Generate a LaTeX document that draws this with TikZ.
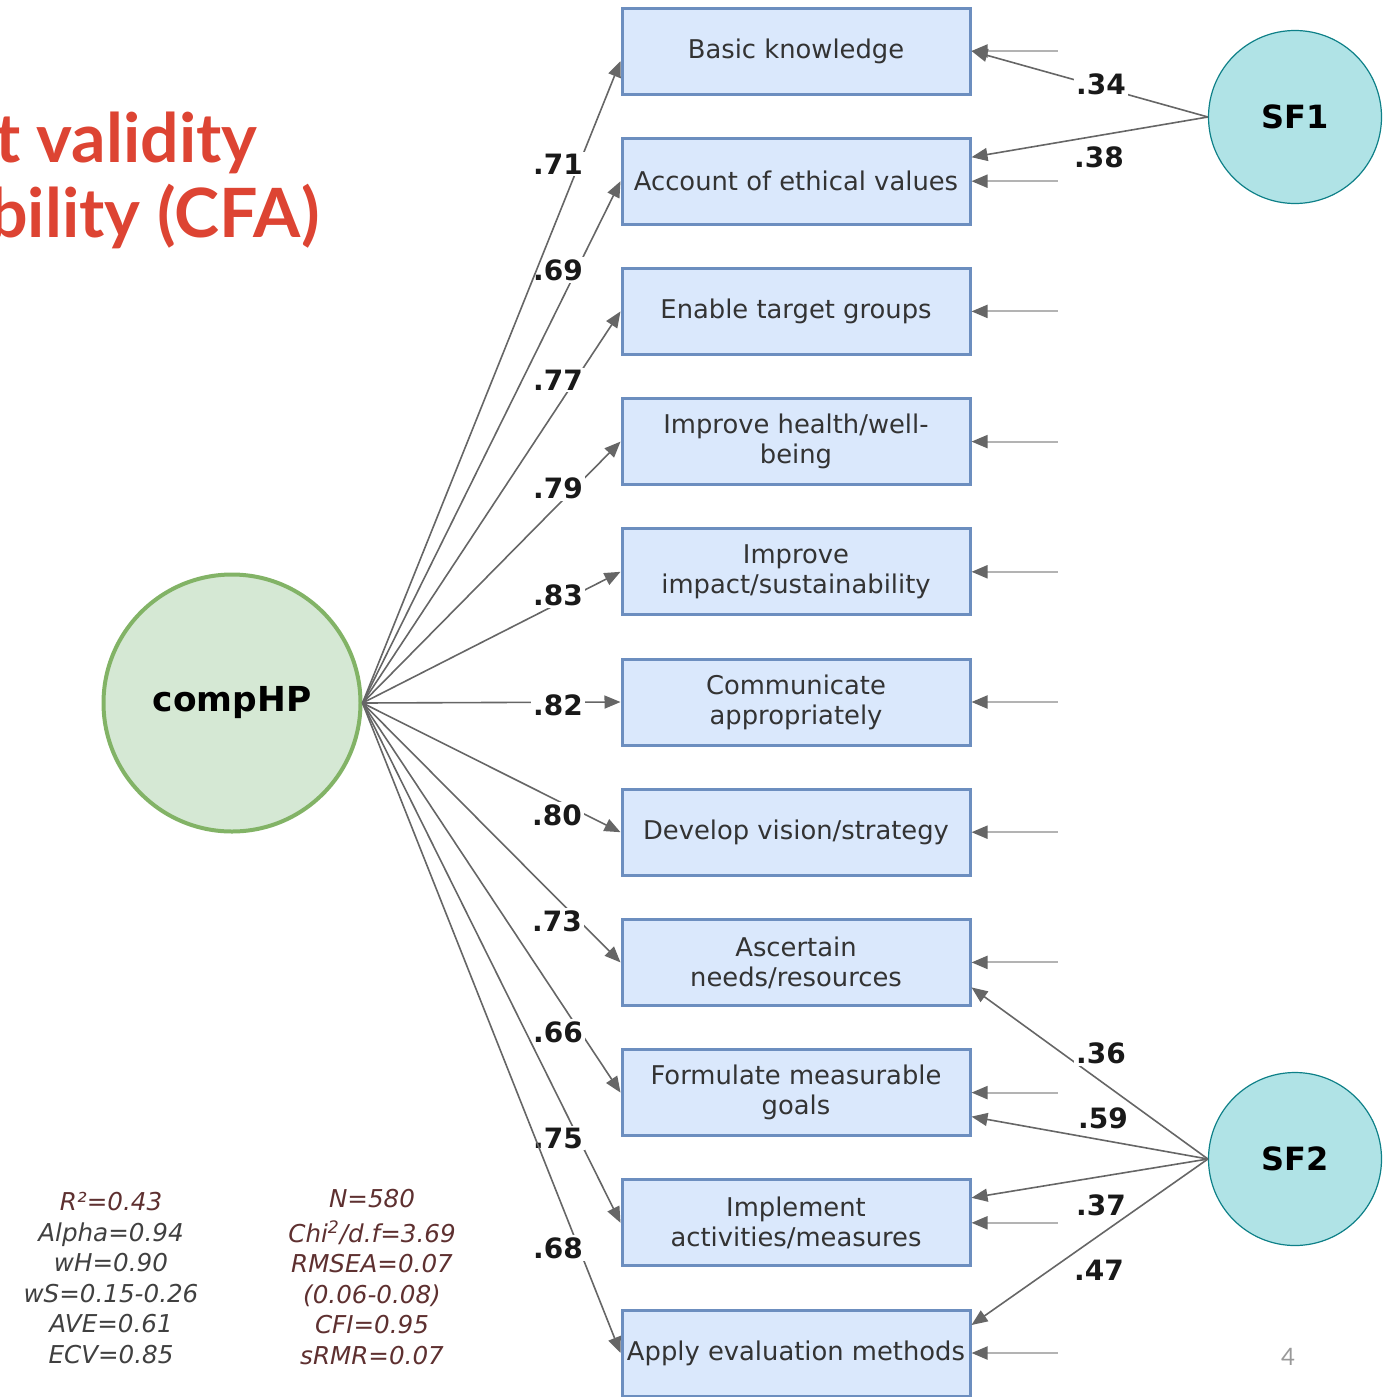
\documentclass[tikz,border=0pt]{standalone}
\usepackage{fontspec}
\setmainfont{DejaVu Sans}
\newfontfamily\headfont{Lato}
\usepackage{tikz}
\usetikzlibrary{arrows.meta, positioning}
\definecolor{hpBoxFill}{HTML}{DAE8FC}
\definecolor{hpBoxLine}{HTML}{6C8EBF}
\definecolor{hpGreenFill}{HTML}{D5E8D4}
\definecolor{hpGreenLine}{HTML}{82B366}
\definecolor{hpTealFill}{HTML}{B0E3E6}
\definecolor{hpTealLine}{HTML}{0E8088}
\definecolor{hpArrow}{HTML}{666666}
\definecolor{hpError}{HTML}{B3B3B3}
\definecolor{hpTitle}{HTML}{DD4433}
\definecolor{hpMaroon}{HTML}{5E3030}
\definecolor{hpGray}{HTML}{404040}
\definecolor{hpText}{HTML}{333333}

\begin{document}
\begin{tikzpicture}[x=0.5pt, y=-0.5pt, node distance=20.6pt,
    item/.style={draw=hpBoxLine, line width=1.5pt, fill=hpBoxFill, minimum width=174pt, minimum height=43pt, inner sep=0pt, align=center, text=hpText, font=\fontsize{12.9}{15}\selectfont},
    factor/.style={circle, draw=hpTealLine, line width=0.6pt, fill=hpTealFill, minimum size=86.5pt, font=\bfseries\fontsize{16}{16}\selectfont},
    load/.style={draw=hpArrow, line width=0.8pt, -{Triangle[length=8pt, width=6.5pt]}},
    err/.style={draw=hpError, line width=1pt, -{Triangle[length=8pt, width=6.5pt, color=hpArrow]}},
    coef/.style={fill=white, inner sep=1pt, font=\bfseries\fontsize{14}{14}\selectfont, text=black!90},
    stats/.style={align=center, font=\itshape\fontsize{12.3}{15.3}\selectfont},
    heading/.style={anchor=base east, inner sep=0pt, text=hpTitle, font=\headfont\bfseries\fontsize{34}{34}\selectfont}]
  \useasboundingbox (0,0) rectangle (1385,1397);

  % slide title, cut off at the left edge
  \node[heading] (ttl1) at (258,162) {t validity};
  \node[heading] (ttl2) at (320,237) {bility (CFA)};

  % indicators
  \node[item] (i1) at (796,51) {Basic knowledge};
  \node[item, below=of i1] (i2) {Account of ethical values};
  \node[item, below=of i2] (i3) {Enable target groups};
  \node[item, below=of i3] (i4) {Improve health/well-\\being};
  \node[item, below=of i4] (i5) {Improve\\impact/sustainability};
  \node[item, below=of i5] (i6) {Communicate\\appropriately};
  \node[item, below=of i6] (i7) {Develop vision/strategy};
  \node[item, below=of i7] (i8) {Ascertain\\needs/resources};
  \node[item, below=of i8] (i9) {Formulate measurable\\goals};
  \node[item, below=of i9] (i10) {Implement\\activities/measures};
  \node[item, below=of i10] (i11) {Apply evaluation methods};

  % latent factors
  \node[circle, draw=hpGreenLine, line width=2pt, fill=hpGreenFill, minimum size=128.5pt, font=\bfseries\fontsize{17.2}{17}\selectfont] (hp) at (232,703) {compHP};
  \node[factor] (sf1) at (1295,117) {SF1};
  \node[factor] (sf2) at (1295,1159) {SF2};

  % residuals
  \foreach \i in {1,...,11} {
    \coordinate[right=43pt of i\i.east] (e\i);
    \draw[err] (e\i) -- (i\i.east);
  }

  % general factor, drawn from the middle outwards
  \draw[load] (hp.east) -- (i6.west); \node[coef] (c6) at (558,705) {.82};
  \draw[load] (hp.east) -- (i5.west); \node[coef] (c5) at (558,595) {.83};
  \draw[load] (hp.east) -- (i4.west); \node[coef] (c4) at (558,488) {.79};
  \draw[load] (hp.east) -- (i3.west); \node[coef] (c3) at (558,380) {.77};
  \draw[load] (hp.east) -- (i2.west); \node[coef] (c2) at (558,270) {.69};
  \draw[load] (hp.east) -- ([yshift=-5pt]i1.west); \node[coef] (c1) at (558,164) {.71};
  \draw[load] (hp.east) -- (i7.west); \node[coef] (c7) at (557,815) {.80};
  \draw[load] (hp.east) -- (i8.west); \node[coef] (c8) at (557,921) {.73};
  \draw[load] (hp.east) -- (i9.west); \node[coef] (c9) at (558,1032) {.66};
  \draw[load] (hp.east) -- (i10.west); \node[coef] (c10) at (558,1138) {.75};
  \draw[load] (hp.east) -- (i11.west); \node[coef] (c11) at (558,1248) {.68};

  % specific factors
  \draw[load] (sf1.west) -- (i1.east); \node[coef] (s1) at (1101,84) {.34};
  \draw[load] (sf1.west) -- ([yshift=12pt]i2.east); \node[coef] (s2) at (1099,157) {.38};
  \draw[load] (sf2.west) -- ([yshift=-12.5pt]i8.east); \node[coef] (s8) at (1101,1053) {.36};
  \draw[load] (sf2.west) -- ([yshift=-12pt]i9.east); \node[coef] (s9) at (1103,1118) {.59};
  \draw[load] (sf2.west) -- ([yshift=12.5pt]i10.east); \node[coef] (s10) at (1101,1205) {.37};
  \draw[load] (sf2.west) -- ([yshift=14pt]i11.east); \node[coef] (s11) at (1099,1270) {.47};

  % reliability and fit
  \node[stats, text=hpGray] (rel) at (111,1278) {\textcolor{hpMaroon}{R²=0.43}\\Alpha=0.94\\wH=0.90\\wS=0.15-0.26\\AVE=0.61\\ECV=0.85};
  \node[stats, text=hpMaroon] (fit) at (372,1277) {N=580\\[2pt]Chi\textsuperscript{2}/d.f=3.69\\RMSEA=0.07\\(0.06-0.08)\\CFI=0.95\\sRMR=0.07};

  \node[text=black!40, font=\headfont\fontsize{12}{12}\selectfont] (pg) at (1288,1357) {4};
\end{tikzpicture}
\end{document}
